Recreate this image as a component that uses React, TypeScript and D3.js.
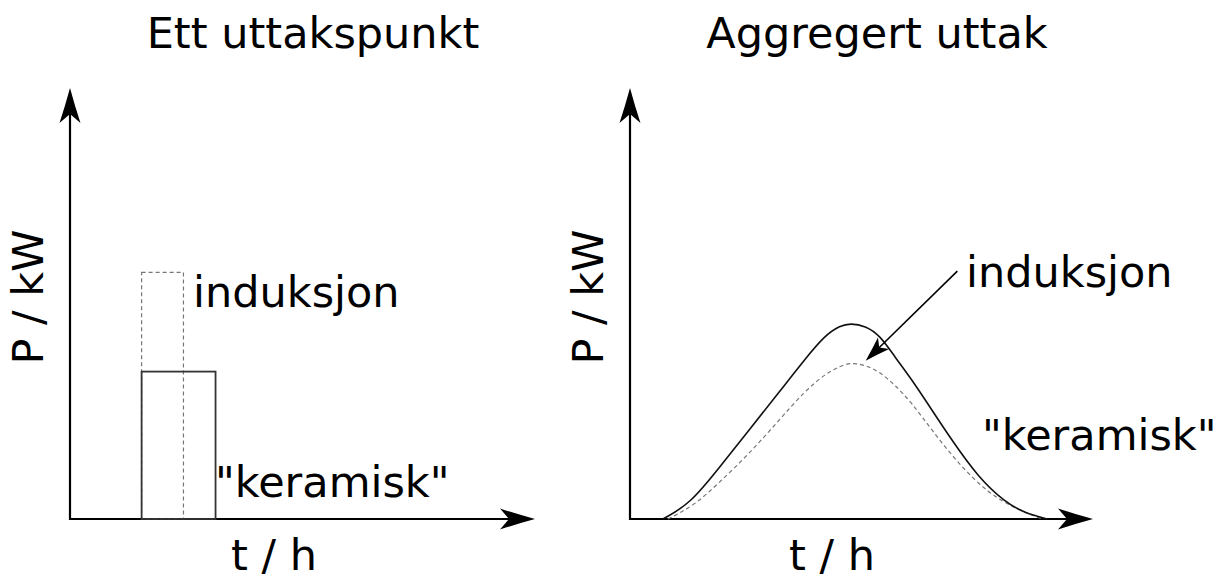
import React, { useRef, useEffect } from "react";
import * as d3 from "d3";

// panel titles and axis labels
const titles = ["Ett uttakspunkt", "Aggregert uttak"];
const yLabel = "P / kW";
const xLabel = "t / h";

// single outlet: [tStart, tEnd, P] (relative units 0..100)
const ceramicBlock = [15.4, 31.3, 34.2];
const inductionBlock = [15.4, 24.4, 57.2];

// aggregated load (t, P)
const ceramicT = [7.1, 13.0, 19.4, 25.9, 32.4, 37.8, 42.1, 45.4, 47.7, 50.8, 54.0, 57.2, 60.9, 65.2, 69.5, 75.2, 81.0, 85.3, 90.1];
const ceramicP = [0, 3.5, 12.1, 20.9, 29.7, 37.1, 42.6, 44.9, 45.4, 44.8, 42.6, 37.6, 32.3, 25.3, 18.3, 9.7, 3.9, 1.4, 0];
const inductionT = [8.2, 14.0, 19.4, 25.9, 32.4, 37.8, 42.1, 45.4, 47.9, 50.8, 54.0, 57.2, 60.9, 65.2, 70.8, 77.3, 83.8, 88.8];
const inductionP = [0, 3.2, 8.6, 15.3, 23.2, 29.7, 33.6, 35.5, 36.3, 35.7, 34.1, 31.1, 26.9, 20.6, 13.0, 6.0, 2.1, 0.1];

// annotation arrow in right panel: from (t, P) to (t, P)
const arrowFrom = [70.7, 57.5];
const arrowTo = [50.9, 36.7];

const W = 1220;
const H = 581;
const FONT = "'DejaVu Sans', Verdana, sans-serif";

const App = () => {
  const ref = useRef(null);

  useEffect(() => {
    const svg = d3.select(ref.current);
    svg.selectAll("*").remove();
    svg.attr("width", W).attr("height", H);
    svg.append("rect").attr("width", W).attr("height", H).attr("fill", "#fff");

    // big axis arrowheads, tip at origin pointing right
    const head = (g, x, y, angle, len = 35, half = 10.5, notch = 9) =>
      g
        .append("path")
        .attr(
          "d",
          `M0,0 Q${-len * 0.5},${-half * 0.45} ${-len},${-half} L${-len + notch},0 L${-len},${half} Q${-len * 0.5},${half * 0.45} 0,0Z`
        )
        .attr("transform", `translate(${x},${y}) rotate(${angle})`)
        .attr("fill", "#000");

    const panels = [
      { x0: 70, x1: 535, title: 313 },
      { x0: 630, x1: 1093, title: 877 },
    ];
    const y0 = 519;
    const y1 = 88;

    panels.forEach((p, i) => {
      const g = svg.append("g");
      const x = d3.scaleLinear().domain([0, 100]).range([p.x0, p.x1]);
      const y = d3.scaleLinear().domain([0, 100]).range([y0, y1]);
      p.x = x;
      p.y = y;

      g.append("line")
        .attr("x1", p.x0).attr("x2", p.x0)
        .attr("y1", y0 + 1).attr("y2", y1 + 20)
        .attr("stroke", "#000").attr("stroke-width", 2.2);
      g.append("line")
        .attr("x1", p.x0 - 1).attr("x2", p.x1 - 20)
        .attr("y1", y0).attr("y2", y0)
        .attr("stroke", "#000").attr("stroke-width", 2.2);
      head(g, p.x0, y1, -90);
      head(g, p.x1, y0, 0);

      g.append("text")
        .attr("x", p.title).attr("y", 48)
        .attr("text-anchor", "middle")
        .style("font-family", FONT).style("font-size", "43px")
        .text(titles[i]);

      g.append("text")
        .attr("transform", `translate(${p.x0 - 27},297) rotate(-90)`)
        .attr("text-anchor", "middle")
        .style("font-family", FONT).style("font-size", "43px")
        .text(yLabel);

      g.append("text")
        .attr("x", i === 0 ? 274 : 832).attr("y", 570)
        .attr("text-anchor", "middle")
        .style("font-family", FONT).style("font-size", "43px")
        .text(xLabel);
    });

    // left panel: blocks
    const L = panels[0];
    const block = (b, dashed) =>
      svg
        .append("rect")
        .attr("x", L.x(b[0]))
        .attr("y", L.y(b[2]))
        .attr("width", L.x(b[1]) - L.x(b[0]))
        .attr("height", L.y(0) - L.y(b[2]))
        .attr("fill", "none")
        .attr("stroke", dashed ? "#777" : "#333")
        .attr("stroke-width", dashed ? 1.2 : 1.8)
        .attr("stroke-dasharray", dashed ? "4,3" : null);
    block(inductionBlock, true);
    block(ceramicBlock, false);

    svg.append("text")
      .attr("x", 193).attr("y", 307)
      .style("font-family", FONT).style("font-size", "43px")
      .text("induksjon");
    svg.append("text")
      .attr("x", 215).attr("y", 497)
      .style("font-family", FONT).style("font-size", "43px")
      .text('"keramisk"');

    // right panel: curves
    const R = panels[1];
    const line = d3
      .line()
      .x((d) => R.x(d[0]))
      .y((d) => R.y(d[1]))
      .curve(d3.curveBasis);

    svg.append("path")
      .attr("d", line(inductionT.map((t, k) => [t, inductionP[k]])))
      .attr("fill", "none")
      .attr("stroke", "#777")
      .attr("stroke-width", 1.2)
      .attr("stroke-dasharray", "4,3");
    svg.append("path")
      .attr("d", line(ceramicT.map((t, k) => [t, ceramicP[k]])))
      .attr("fill", "none")
      .attr("stroke", "#111")
      .attr("stroke-width", 1.6);

    // annotation arrow
    const ax0 = R.x(arrowFrom[0]);
    const ay0 = R.y(arrowFrom[1]);
    const ax1 = R.x(arrowTo[0]);
    const ay1 = R.y(arrowTo[1]);
    const ang = (Math.atan2(ay1 - ay0, ax1 - ax0) * 180) / Math.PI;
    const back = 18;
    const ux = (ax1 - ax0) / Math.hypot(ax1 - ax0, ay1 - ay0);
    const uy = (ay1 - ay0) / Math.hypot(ax1 - ax0, ay1 - ay0);
    svg.append("line")
      .attr("x1", ax0).attr("y1", ay0)
      .attr("x2", ax1 - ux * back).attr("y2", ay1 - uy * back)
      .attr("stroke", "#000").attr("stroke-width", 1.6);
    head(svg, ax1, ay1, ang, 25, 8, 6);

    svg.append("text")
      .attr("x", 966).attr("y", 287)
      .style("font-family", FONT).style("font-size", "43px")
      .text("induksjon");
    svg.append("text")
      .attr("x", 982).attr("y", 450)
      .style("font-family", FONT).style("font-size", "43px")
      .text('"keramisk"');
  }, []);

  return (
    <div style={{ position: "absolute", left: 0, top: 0 }}>
      <svg ref={ref}></svg>
    </div>
  );
};

export default App;
